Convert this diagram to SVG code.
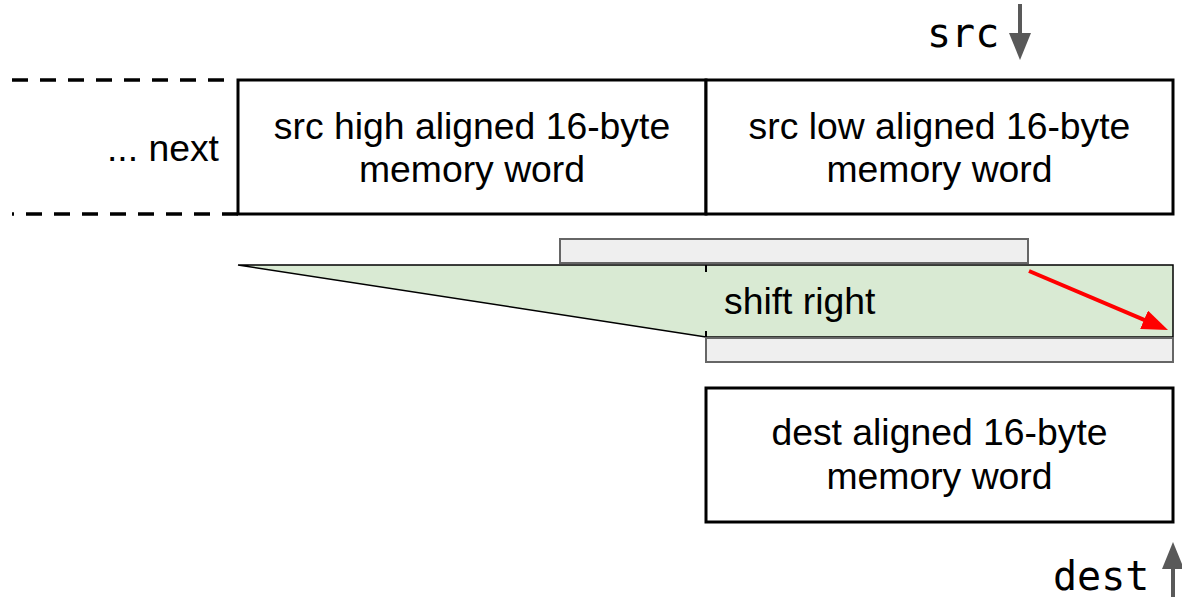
<svg xmlns="http://www.w3.org/2000/svg" width="1182" height="597" viewBox="0 0 1182 597">
  <style>
    .box { fill: #ffffff; stroke: #000000; stroke-width: 3; }
    .dash { fill: none; stroke: #000000; stroke-width: 3.5; stroke-dasharray: 16 12; }
    .bar { fill: #efefef; stroke: #666666; stroke-width: 2; }
    .shift { fill: #d9ead3; stroke: #000000; stroke-width: 1.5; }
    .tick { stroke: #000000; stroke-width: 2; }
    .lbl { font-family: "Liberation Sans", Arial, sans-serif; font-size: 37.33px; fill: #000000; }
    .mid { text-anchor: middle; }
    .mono { font-family: "DejaVu Sans Mono", "Liberation Mono", monospace; font-size: 40px; fill: #000000; }
    .ptr { stroke: #595959; stroke-width: 4; fill: none; }
    .red { stroke: #ff0000; stroke-width: 4; fill: none; }
  </style>
  <defs>
    <marker id="grayHead" markerUnits="userSpaceOnUse" viewBox="0 0 27 22" markerWidth="27" markerHeight="22" refX="12" refY="11" orient="auto">
      <path d="M0,0 L27,11 L0,22 z" fill="#595959"/>
    </marker>
    <marker id="redHead" markerUnits="userSpaceOnUse" viewBox="0 0 26 20" markerWidth="26" markerHeight="20" refX="11" refY="10" orient="auto">
      <path d="M0,0 L26,10 L0,20 z" fill="#ff0000"/>
    </marker>
  </defs>

  <g id="next-boundary">
    <line class="dash" x1="12" y1="80" x2="224" y2="80"/>
    <line class="dash" x1="238" y1="214" x2="12" y2="214"/>
    <text class="lbl" x="219" y="161" text-anchor="end">... next</text>
  </g>

  <g id="src-high">
    <rect class="box" x="238" y="80" width="468" height="134"/>
    <text class="lbl mid" x="472" y="139">src high aligned 16-byte</text>
    <text class="lbl mid" x="472" y="182">memory word</text>
  </g>

  <g id="src-low">
    <rect class="box" x="706" y="80" width="467" height="134"/>
    <text class="lbl mid" x="939.5" y="139">src low aligned 16-byte</text>
    <text class="lbl mid" x="939.5" y="182">memory word</text>
  </g>

  <g id="loaded-window">
    <rect class="bar" x="560" y="239" width="468" height="24"/>
  </g>

  <g id="shift-right">
    <polygon class="shift" points="238,265 1173,265 1173,337 706,337"/>
    <line class="tick" x1="706" y1="265" x2="706" y2="272"/>
    <line class="tick" x1="706" y1="331" x2="706" y2="337"/>
    <text class="lbl" x="724" y="314">shift right</text>
  </g>

  <g id="shifted-result">
    <rect class="bar" x="706" y="338" width="467" height="24"/>
  </g>

  <g id="dest">
    <rect class="box" x="706" y="388" width="467" height="134"/>
    <text class="lbl mid" x="939.5" y="445">dest aligned 16-byte</text>
    <text class="lbl mid" x="939.5" y="489">memory word</text>
  </g>

  <g id="src-pointer">
    <text class="mono" x="927" y="47">src</text>
  </g>

  <g id="dest-pointer">
    <text class="mono" x="1053" y="590">dest</text>
  </g>

  <g id="connectors">
    <line class="ptr" x1="1020" y1="4" x2="1020" y2="45" marker-end="url(#grayHead)"/>
    <line class="ptr" x1="1173" y1="597" x2="1173" y2="557" marker-end="url(#grayHead)"/>
    <line class="red" x1="1029" y1="271" x2="1154.2" y2="324.1" marker-end="url(#redHead)"/>
  </g>
</svg>
